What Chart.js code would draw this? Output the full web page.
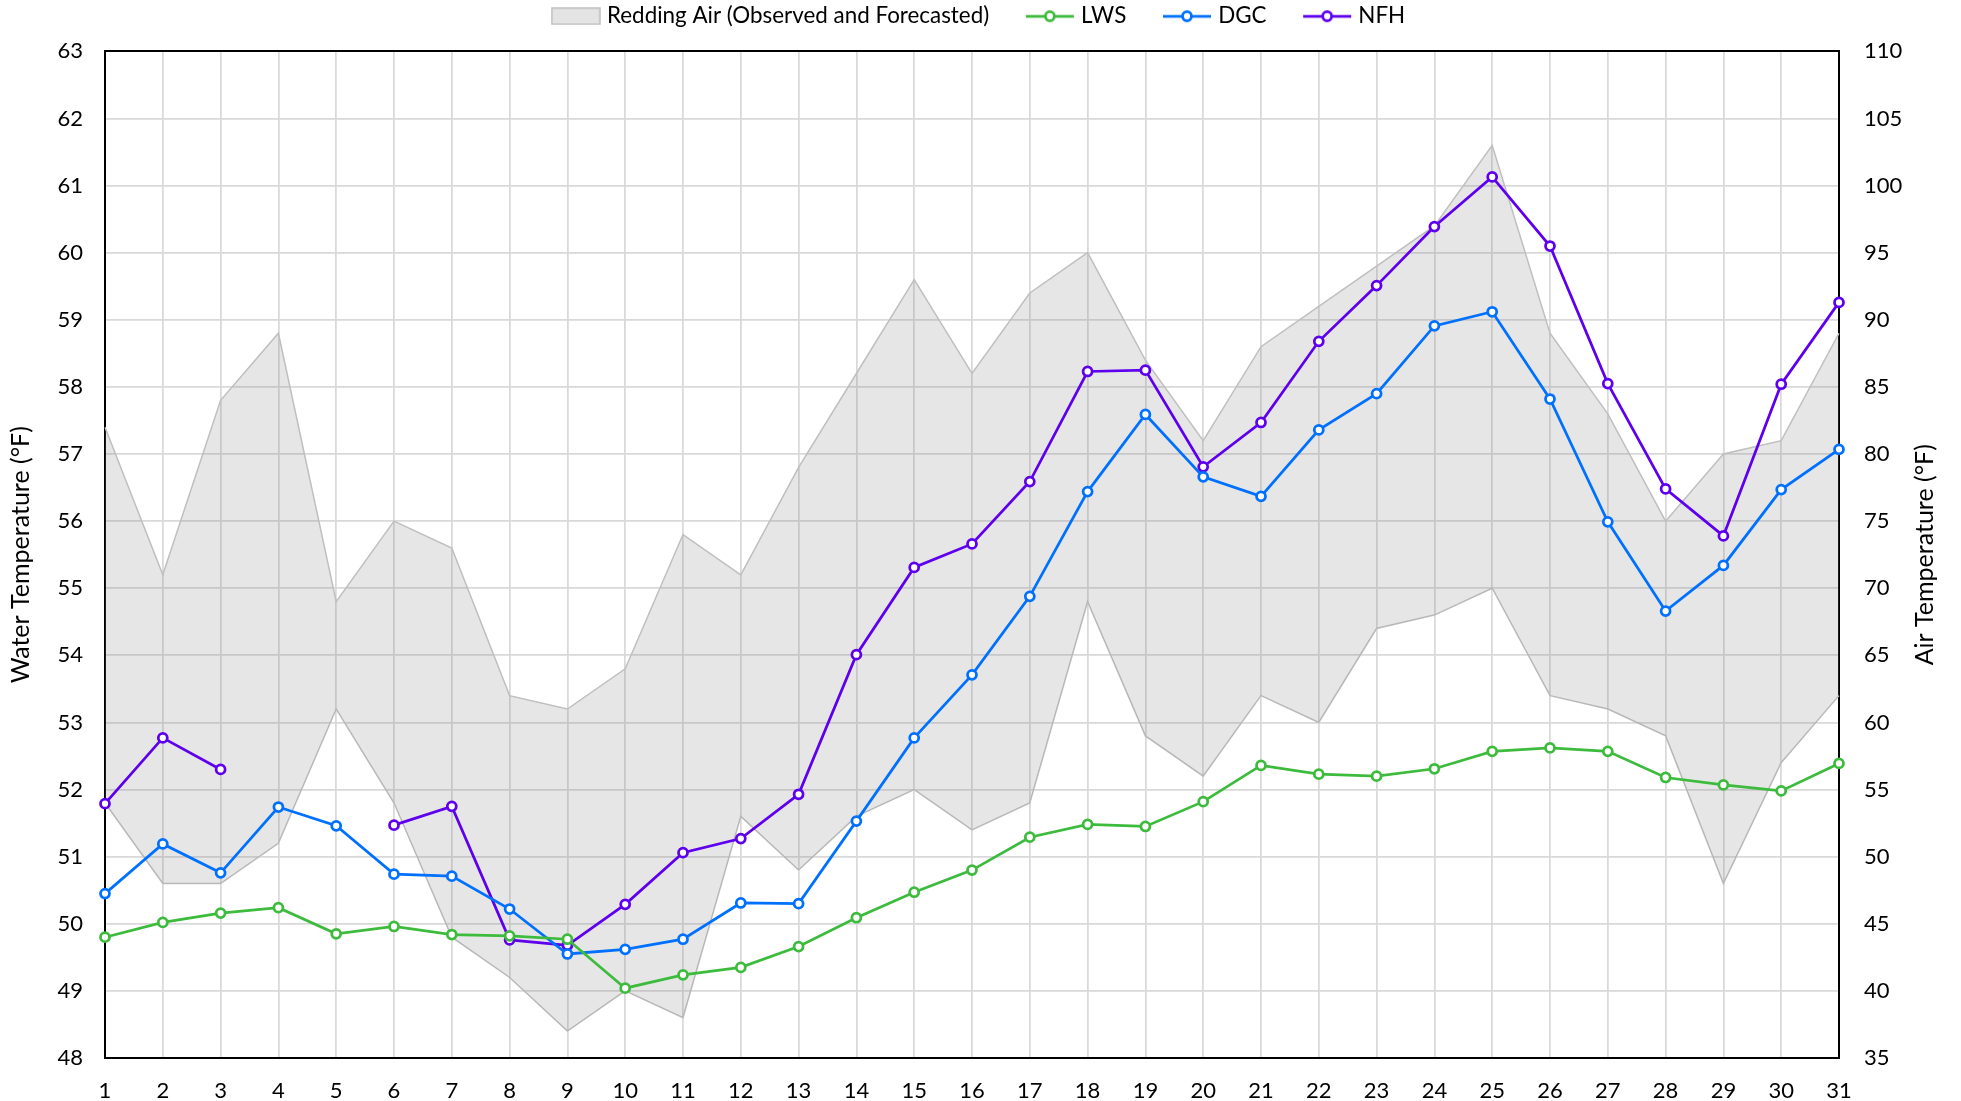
<!DOCTYPE html>
<html>
<head>
<meta charset="utf-8">
<title>Water and Air Temperature</title>
<script src="https://cdn.jsdelivr.net/npm/chart.js@4.4.1/dist/chart.umd.min.js"></script>
<style>
  html, body { margin: 0; padding: 0; background: #fff; }
</style>
</head>
<body>
<canvas id="chart" width="1961" height="1101"></canvas>
<script>
// day of month
const days = ['1','2','3','4','5','6','7','8','9','10','11','12','13','14','15','16',
              '17','18','19','20','21','22','23','24','25','26','27','28','29','30','31'];

// Redding air temperature band (°F, right axis)
const airHigh = [82, 71, 84, 89, 69, 75, 73, 62, 61, 64, 74, 71, 79, 86, 93, 86,
                 92, 95, 87, 81, 88, 91, 94, 97, 103, 89, 83, 75, 80, 81, 89];
const airLow  = [54, 48, 48, 51, 61, 54, 44, 41, 37, 40, 38, 53, 49, 53, 55, 52,
                 54, 69, 59, 56, 62, 60, 67, 68, 70, 62, 61, 59, 48, 57, 62];

// water temperature (°F, left axis)
const lws = [49.80, 50.02, 50.16, 50.24, 49.85, 49.96, 49.84, 49.82, 49.77, 49.04, 49.24,
             49.35, 49.66, 50.09, 50.47, 50.80, 51.29, 51.48, 51.45, 51.82, 52.36, 52.23,
             52.20, 52.31, 52.57, 52.62, 52.57, 52.18, 52.07, 51.98, 52.39];
const dgc = [50.45, 51.19, 50.76, 51.74, 51.46, 50.74, 50.71, 50.22, 49.55, 49.62, 49.77,
             50.31, 50.30, 51.53, 52.77, 53.71, 54.88, 56.44, 57.59, 56.66, 56.37, 57.36,
             57.90, 58.91, 59.12, 57.82, 55.99, 54.66, 55.34, 56.47, 57.07];
const nfh = [51.79, 52.77, 52.30, null, null, 51.47, 51.75, 49.76, 49.68, 50.29, 51.06,
             51.27, 51.93, 54.01, 55.31, 55.66, 56.59, 58.23, 58.25, 56.81, 57.47, 58.68,
             59.51, 60.39, 61.13, 60.10, 58.05, 56.48, 55.78, 58.04, 59.26];

// axis ranges / labels
const waterTicks = { min: 48, max: 63, step: 1 };
const airTicks = { min: 35, max: 110, step: 5 };
const WATER_TITLE = 'Water Temperature (°F)';
const AIR_TITLE = 'Air Temperature (°F)';
const AIR_LABEL = 'Redding Air (Observed and Forecasted)';

const FONT = 'Lato, "Open Sans", sans-serif';
const GRID = '#d9d9d9';
const COLORS = { lws: '#3dbb3d', dgc: '#0070ff', nfh: '#5e00ee' };

// legend icons: small canvases used as point styles
function lineIcon(color) {
    const c = document.createElement('canvas');
    c.width = 50; c.height = 18;
    const g = c.getContext('2d');
    g.strokeStyle = color;
    g.lineWidth = 2.75;
    g.beginPath(); g.moveTo(1, 9); g.lineTo(49, 9); g.stroke();
    g.beginPath(); g.arc(25, 9, 4.5, 0, Math.PI * 2);
    g.fillStyle = '#fff'; g.fill(); g.stroke();
    return c;
}
function bandIcon() {
    const c = document.createElement('canvas');
    c.width = 50; c.height = 18;
    const g = c.getContext('2d');
    g.fillStyle = '#e4e4e4';
    g.fillRect(1, 1, 48, 16);
    g.strokeStyle = '#bfbfbf';
    g.lineWidth = 1.5;
    g.strokeRect(1, 1, 48, 16);
    return c;
}

function waterLine(label, data, color) {
    return {
        label: label, data: data, yAxisID: 'y', order: 0,
        borderColor: color, backgroundColor: color, borderWidth: 2.75,
        pointRadius: 4.5, pointBorderWidth: 2.75, pointBackgroundColor: '#fff',
        pointBorderColor: color, fill: false, tension: 0, spanGaps: false,
    };
}

// right axis title reads bottom-to-top, chart.js would rotate it the other way
const rightTitle = {
    id: 'rightTitle',
    afterDraw(chart) {
        const { ctx, chartArea } = chart;
        ctx.save();
        ctx.translate(chart.width - 36, (chartArea.top + chartArea.bottom) / 2);
        ctx.rotate(-Math.PI / 2);
        ctx.font = '25px ' + FONT;
        ctx.fillStyle = '#000';
        ctx.textAlign = 'center';
        ctx.textBaseline = 'middle';
        ctx.fillText(AIR_TITLE, 0, 0);
        ctx.restore();
    }
};

// more room between the legend and the plot
const legendGap = {
    id: 'legendGap',
    beforeInit(chart) {
        const fit = chart.legend.fit;
        chart.legend.fit = function () {
            fit.bind(chart.legend)();
            this.height += 14;
        };
    }
};

const icons = [bandIcon(), null, lineIcon(COLORS.lws), lineIcon(COLORS.dgc), lineIcon(COLORS.nfh)];

new Chart(document.getElementById('chart'), {
    type: 'line',
    data: {
        labels: days,
        datasets: [
            {
                label: AIR_LABEL, data: airHigh, yAxisID: 'y2', order: 1,
                borderColor: '#bfbfbf', borderWidth: 1.5, pointRadius: 0,
                backgroundColor: 'rgba(128,128,128,0.2)', fill: '+1', tension: 0,
            },
            {
                label: 'air low', data: airLow, yAxisID: 'y2', order: 1,
                borderColor: '#bfbfbf', borderWidth: 1.5, pointRadius: 0,
                fill: false, tension: 0,
            },
            waterLine('LWS', lws, COLORS.lws),
            waterLine('DGC', dgc, COLORS.dgc),
            waterLine('NFH', nfh, COLORS.nfh),
        ],
    },
    options: {
        responsive: false,
        devicePixelRatio: 1,
        animation: false,
        layout: { padding: { top: -7, right: 0, left: 0, bottom: 0 } },
        plugins: {
            tooltip: { enabled: false },
            legend: {
                position: 'top',
                labels: {
                    font: { family: FONT, size: 22.4 },
                    color: '#000',
                    usePointStyle: true,
                    pointStyleWidth: 40,
                    padding: 12,
                    sort: (a, b) => a.datasetIndex - b.datasetIndex,
                    filter: (item) => item.datasetIndex !== 1,
                    generateLabels(chart) {
                        const items = Chart.defaults.plugins.legend.labels.generateLabels(chart);
                        items.forEach(it => {
                            it.pointStyle = icons[it.datasetIndex];
                            // a little extra room after each entry but the last
                            if (it.datasetIndex < 4) it.text = it.text + '     ';
                        });
                        return items;
                    },
                },
            },
        },
        scales: {
            x: {
                offset: false,
                grid: { color: GRID, lineWidth: 1.75, drawTicks: false },
                border: { color: '#000', width: 2 },
                ticks: { font: { family: FONT, size: 22 }, color: '#000', padding: 20, maxRotation: 0, autoSkip: false },
                afterFit: (scale) => { scale.height = 43; },
            },
            y: {
                position: 'left',
                min: waterTicks.min, max: waterTicks.max,
                grid: {
                    color: (c) => c.tick && c.tick.value === waterTicks.max ? '#000' : GRID,
                    lineWidth: (c) => c.tick && c.tick.value === waterTicks.max ? 2 : 1.75,
                    drawTicks: false,
                },
                border: { color: '#000', width: 2 },
                ticks: { stepSize: waterTicks.step, font: { family: FONT, size: 22 }, color: '#000', padding: 22 },
                title: { display: true, text: WATER_TITLE, font: { family: FONT, size: 25 }, color: '#000', padding: { top: 6, bottom: 0 } },
                afterFit: (scale) => { scale.width = 105; },
            },
            y2: {
                position: 'right',
                min: airTicks.min, max: airTicks.max,
                grid: { drawOnChartArea: false, drawTicks: false },
                border: { color: '#000', width: 2 },
                ticks: { stepSize: airTicks.step, font: { family: FONT, size: 22 }, color: '#000', padding: 25 },
                afterFit: (scale) => { scale.width = 122; },
            },
        },
    },
    plugins: [rightTitle, legendGap],
});
</script>
</body>
</html>
